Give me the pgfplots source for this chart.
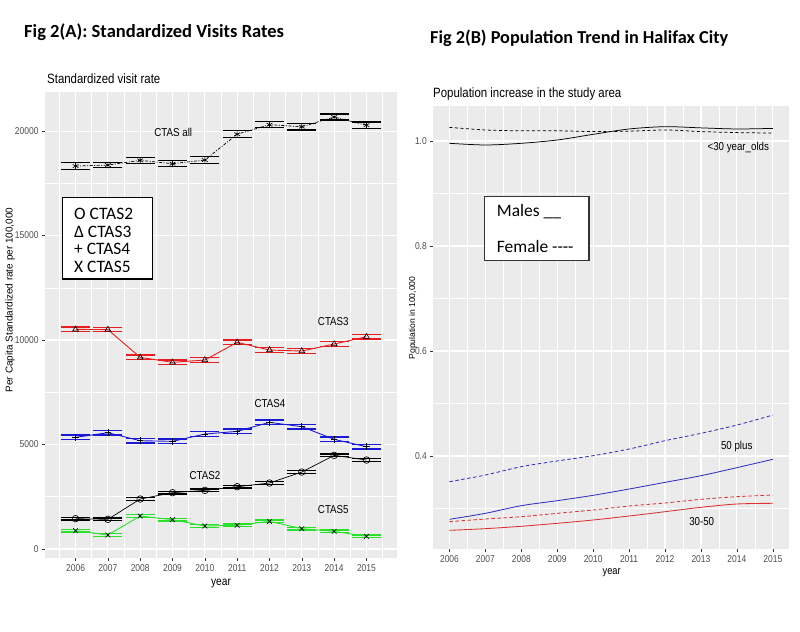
\documentclass[border=0pt]{standalone}
\usepackage{fontspec}
\setmainfont{Liberation Sans}
\newfontfamily\nf[FakeStretch=0.85]{Liberation Sans}
\newfontfamily\carl{Carlito}
\usepackage{pgfplots}
\pgfplotsset{compat=1.18}
\usepackage{pgfplotstable}

\definecolor{panel}{HTML}{EBEBEB}
\definecolor{tickgray}{HTML}{4D4D4D}
\definecolor{tickcol}{HTML}{333333}
\definecolor{ctred}{RGB}{232,30,30}
\definecolor{ctblue}{RGB}{25,25,215}
\definecolor{ctgreen}{RGB}{40,225,40}
\definecolor{pblue}{RGB}{50,50,190}
\definecolor{pred}{RGB}{220,50,50}

\pgfplotstableread{
year val lo hi
2006 18325 18167 18486
2007 18374 18263 18486
2008 18598 18454 18741
2009 18438 18295 18582
2010 18614 18454 18773
2011 19850 19682 20017
2012 20304 20161 20448
2013 20209 20049 20368
2014 20671 20528 20815
2015 20280 20129 20432
}\ctasall

\pgfplotstableread{
year val lo hi
2006 10510 10400 10620
2007 10500 10390 10610
2008 9171 9061 9281
2009 8933 8823 9043
2010 9043 8933 9153
2011 9890 9780 10000
2012 9522 9412 9632
2013 9474 9364 9584
2014 9809 9699 9919
2015 10158 10048 10268
}\ctasthree

\pgfplotstableread{
year val lo hi
2006 5344 5234 5454
2007 5565 5455 5675
2008 5183 5073 5293
2009 5152 5042 5262
2010 5502 5392 5612
2011 5630 5520 5740
2012 6061 5951 6171
2013 5853 5743 5963
2014 5248 5138 5358
2015 4895 4785 5005
}\ctasfour

\pgfplotstableread{
year val lo hi
2006 1451 1386 1516
2007 1420 1355 1485
2008 2392 2327 2457
2009 2695 2630 2760
2010 2807 2742 2872
2011 2982 2917 3047
2012 3158 3093 3223
2013 3684 3619 3749
2014 4482 4417 4547
2015 4258 4193 4323
}\ctastwo

\pgfplotstableread{
year val lo hi
2006 877 812 942
2007 670 605 735
2008 1579 1514 1644
2009 1404 1339 1469
2010 1100 1035 1165
2011 1133 1068 1198
2012 1324 1259 1389
2013 973 908 1038
2014 845 780 910
2015 606 541 671
}\ctasfive

\pgfplotstableread{
year m30 f30 m50 f50 m3050 f3050
2006 0.9956 1.0260 0.2794 0.3510 0.2584 0.2749
2007 0.9924 1.0210 0.2908 0.3638 0.2616 0.2800
2008 0.9956 1.0194 0.3054 0.3797 0.2661 0.2844
2009 1.0019 1.0194 0.3149 0.3905 0.2718 0.2908
2010 1.0127 1.0180 0.3251 0.4006 0.2781 0.2971
2011 1.0229 1.0187 0.3371 0.4133 0.2857 0.3048
2012 1.0273 1.0210 0.3498 0.4292 0.2939 0.3105
2013 1.0250 1.0180 0.3625 0.4432 0.3023 0.3175
2014 1.0229 1.0160 0.3778 0.4590 0.3086 0.3225
2015 1.0240 1.0152 0.3937 0.4780 0.3099 0.3257
}\pop

\pgfplotsset{
  ggstyle/.style={
    scale only axis, anchor=south west,
    axis background/.style={fill=panel},
    axis line style={draw=none},
    grid=both,
    major grid style={white, line width=1.1bp},
    minor grid style={white, line width=0.55bp},
    tick align=outside, tick pos=left,
    major tick length=3bp, minor tick length=0pt,
    tick style={tickcol, line width=0.5bp},
    ticklabel style={font=\nf\fontsize{10}{12}\selectfont, text=tickgray},
    scaled ticks=false,
    /pgf/number format/1000 sep={},
    /pgf/number format/assume math mode=true,
  },
  cap/.style={draw=#1, color=#1, only marks, mark=-, mark size=14.5bp, mark options={solid, draw=#1, line width=1.2bp}},
  pt/.style={mark options={draw=black, solid, line width=0.65bp}, mark size=3.3bp},
}

\begin{document}
\begin{tikzpicture}[x=1bp,y=1bp]
\useasboundingbox (0,0) rectangle (800,632);

% ---------------- left panel ----------------
\begin{axis}[ggstyle, at={(45bp,74bp)}, width=352bp, height=466bp,
  xmin=2005.055, xmax=2015.945, ymin=-430, ymax=21870,
  xtick={2006,2007,...,2015}, minor xtick={2005.5,2006.5,...,2015.5},
  ytick={0,5000,10000,15000,20000}, minor ytick={2500,7500,12500,17500}]
% CTAS all
\addplot[cap=black] table[x=year,y=hi]{\ctasall};
\addplot[cap=black] table[x=year,y=lo]{\ctasall};
\addplot[black, line width=0.7bp, dash pattern=on 3bp off 1.5bp on 1bp off 1.5bp, mark=asterisk, pt] table[x=year,y=val]{\ctasall};
% CTAS3
\addplot[cap=ctred] table[x=year,y=hi]{\ctasthree};
\addplot[cap=ctred] table[x=year,y=lo]{\ctasthree};
\addplot[ctred, line width=0.9bp, mark=triangle, pt] table[x=year,y=val]{\ctasthree};
% CTAS4
\addplot[cap=ctblue] table[x=year,y=hi]{\ctasfour};
\addplot[cap=ctblue] table[x=year,y=lo]{\ctasfour};
\addplot[ctblue, line width=0.9bp, mark=+, pt] table[x=year,y=val]{\ctasfour};
% CTAS2
\addplot[cap=black] table[x=year,y=hi]{\ctastwo};
\addplot[cap=black] table[x=year,y=lo]{\ctastwo};
\addplot[black, line width=0.7bp, mark=o, pt] table[x=year,y=val]{\ctastwo};
% CTAS5
\addplot[cap=ctgreen] table[x=year,y=hi]{\ctasfive};
\addplot[cap=ctgreen] table[x=year,y=lo]{\ctasfive};
\addplot[ctgreen, line width=0.9bp, mark=x, pt] table[x=year,y=val]{\ctasfive};
\end{axis}

% ---------------- right panel ----------------
\begin{axis}[ggstyle, at={(433.3bp,82.7bp)}, width=355.7bp, height=443.3bp,
  xmin=2005.55, xmax=2015.45, ymin=0.2223, ymax=1.0667,
  xtick={2006,2007,...,2015}, minor xtick={2005.5,2006.5,...,2015.5},
  ytick={0.4,0.6,0.8,1.0}, minor ytick={0.3,0.5,0.7,0.9},
  yticklabel style={/pgf/number format/fixed, /pgf/number format/fixed zerofill, /pgf/number format/precision=1}]
\addplot[black, line width=0.75bp, smooth] table[x=year,y=m30]{\pop};
\addplot[black, line width=0.75bp, dash pattern=on 3bp off 2.5bp, smooth] table[x=year,y=f30]{\pop};
\addplot[pblue, line width=0.85bp, smooth] table[x=year,y=m50]{\pop};
\addplot[pblue, line width=0.85bp, dash pattern=on 3.5bp off 2.5bp, smooth] table[x=year,y=f50]{\pop};
\addplot[pred, line width=0.85bp, smooth] table[x=year,y=m3050]{\pop};
\addplot[pred, line width=0.85bp, dash pattern=on 3.5bp off 2.5bp, smooth] table[x=year,y=f3050]{\pop};
\end{axis}

% ---------------- texts ----------------
\node[anchor=west, inner sep=0, font=\carl\bfseries\fontsize{18.6}{21}\selectfont] at (24,600) {Fig 2(A): Standardized Visits Rates};
\node[anchor=west, inner sep=0, font=\carl\bfseries\fontsize{18.3}{21}\selectfont] at (430,594) {Fig 2(B) Population Trend in Halifax City};
\node[anchor=west, inner sep=0, font=\nf\fontsize{13.5}{16}\selectfont] at (47,553) {Standardized visit rate};
\node[anchor=west, inner sep=0, font=\nf\fontsize{13.5}{16}\selectfont] at (433,538) {Population increase in the study area};
\node[rotate=90, inner sep=0, font=\fontsize{10}{12}\selectfont] at (10,332) {Per Capita Standardized rate per 100,000};
\node[rotate=90, inner sep=0, font=\fontsize{8.6}{10}\selectfont] at (413,314) {Population in 100,000};
\node[inner sep=0, font=\nf\fontsize{12}{14}\selectfont] at (221,48) {year};
\node[inner sep=0, font=\nf\fontsize{11}{13}\selectfont] at (611.7,59) {year};

\begin{scope}[every node/.style={inner sep=0, font=\nf\fontsize{11.5}{13}\selectfont}]
\node at (173.3,499.3) {CTAS all};
\node at (333.3,310.3) {CTAS3};
\node at (270,228) {CTAS4};
\node at (205,156.3) {CTAS2};
\node at (333.3,122) {CTAS5};
\node at (738.3,484.3) {<30 year\_olds};
\node at (736.7,185.3) {50 plus};
\node at (701.7,110.3) {30-50};
\end{scope}

% legend boxes
\draw[line width=1.3bp, fill=white] (62.7,434.7) rectangle (152.7,353);
\begin{scope}[every node/.style={anchor=west, inner sep=0, font=\carl\fontsize{17.5}{20}\selectfont}]
\node at (74,418) {O CTAS2};
\node at (74,400) {Δ CTAS3};
\node at (74,383) {+ CTAS4};
\node at (74,365) {X CTAS5};
\end{scope}
\draw[line width=1.3bp, draw=tickcol, fill=white] (484.3,435.3) rectangle (589,371.3);
\begin{scope}[every node/.style={anchor=west, inner sep=0, font=\carl\fontsize{17.5}{20}\selectfont}]
\node at (496.7,420.3) {Males \_\_};
\node at (496.7,385.3) {Female -{}-{}-{}-};
\end{scope}
\end{tikzpicture}
\end{document}
